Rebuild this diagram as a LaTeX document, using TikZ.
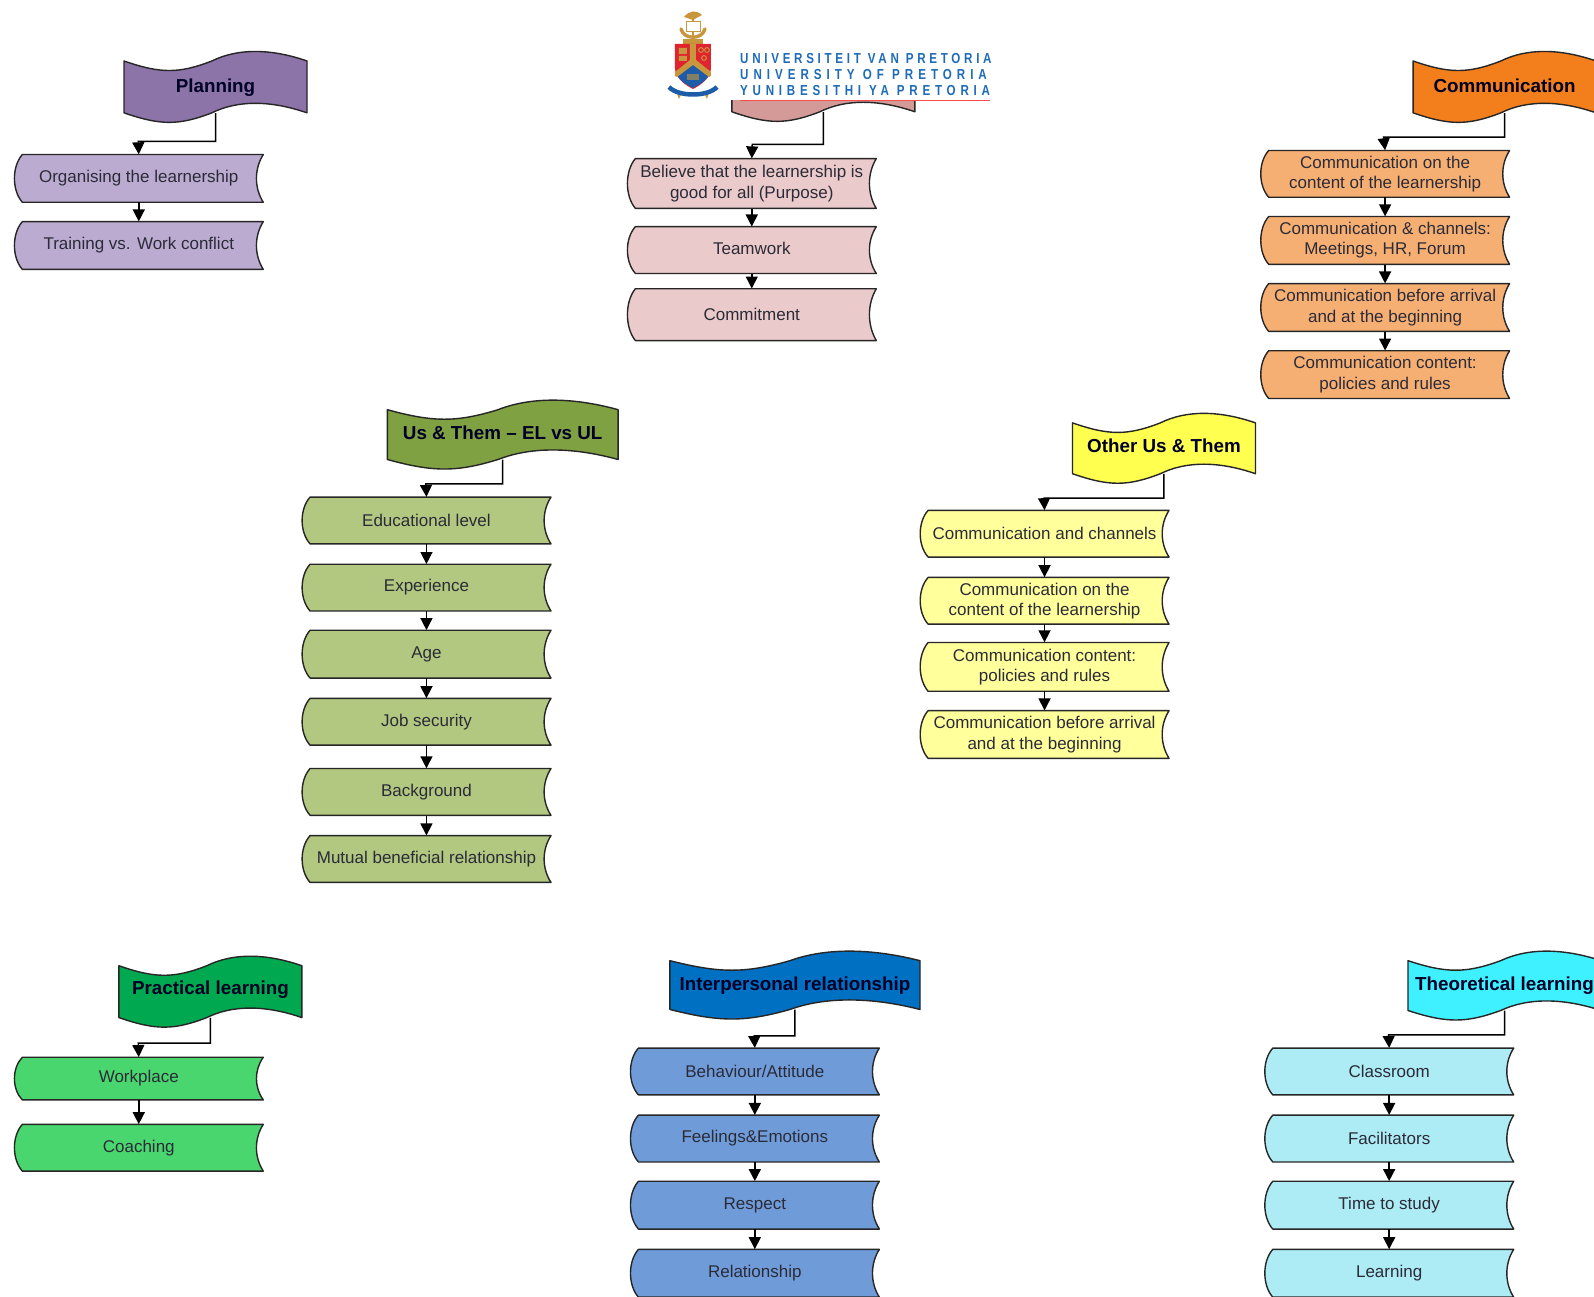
\documentclass[tikz,border=0pt]{standalone}
\usepackage{fontspec}
\usepackage{graphicx}
\setmainfont{Liberation Sans}
\definecolor{ink}{HTML}{2B2B38}
\definecolor{upblue}{HTML}{1E6BB8}
\definecolor{upgold}{HTML}{C8963C}
\definecolor{upred}{HTML}{E0242F}
\definecolor{upnavy}{HTML}{1C5CA8}
\tikzset{
  outline/.style={draw=black!85,line width=1.4pt,line join=round},
  boxlabel/.style={inner sep=0pt,align=center,text=ink,font=\fontsize{17}{20.3}\selectfont},
  headlabel/.style={inner sep=0pt,align=center,text=black!85!blue,font=\fontsize{18.8}{22}\selectfont\bfseries},
  conn/.style={draw=black,line width=1.5pt,-{Triangle[length=12pt,width=12pt]}},
  logoname/.style={anchor=base west,inner sep=0pt,text=upblue},
  planH/.style={fill=myPlanH}, planB/.style={fill=myPlanB},
  pinkH/.style={fill=myPinkH}, pinkB/.style={fill=myPinkB},
  commH/.style={fill=myCommH}, commB/.style={fill=myCommB},
  usH/.style={fill=myUsH}, usB/.style={fill=myUsB},
  otherH/.style={fill=myOtherH}, otherB/.style={fill=myOtherB},
  pracH/.style={fill=myPracH}, pracB/.style={fill=myPracB},
  interH/.style={fill=myInterH}, interB/.style={fill=myInterB},
  theoH/.style={fill=myTheoH}, theoB/.style={fill=myTheoB},
}
\definecolor{myPlanH}{HTML}{8C73A8}\definecolor{myPlanB}{HTML}{BBABD1}
\definecolor{myPinkH}{HTML}{D49A98}\definecolor{myPinkB}{HTML}{EACACA}
\definecolor{myCommH}{HTML}{F27F1B}\definecolor{myCommB}{HTML}{F6AF73}
\definecolor{myUsH}{HTML}{7FA141}\definecolor{myUsB}{HTML}{B2C77F}
\definecolor{myOtherH}{HTML}{FFFF4F}\definecolor{myOtherB}{HTML}{FFFF9C}
\definecolor{myPracH}{HTML}{00A84F}\definecolor{myPracB}{HTML}{4AD66E}
\definecolor{myInterH}{HTML}{0070C2}\definecolor{myInterB}{HTML}{6F9CD9}
\definecolor{myTheoH}{HTML}{3FF0FF}\definecolor{myTheoB}{HTML}{ADECF5}
% name, style, left x, top y, bottom y, text
\newcommand{\storedbox}[6]{%
  \pgfmathsetmacro\xa{#3}\pgfmathsetmacro\xb{#3+245}%
  \pgfmathsetmacro\xc{#3+8}\pgfmathsetmacro\ym{(#4+#5)/2}%
  \pgfmathsetmacro\hh{(#5-#4)*1.0166}\pgfmathsetmacro\ww{245*1.0166}%
  \pgfmathsetmacro\xd{\xb-9}\pgfmathsetmacro\cx{#3+122.5}%
  \path[outline,#2] (\xc,#4) -- (\xb,#4)
    .. controls (\xd,{#4+(#5-#4)*.3}) and (\xd,{#4+(#5-#4)*.7}) .. (\xb,#5)
    -- (\xc,#5)
    .. controls (\xa-2.4,{#4+(#5-#4)*.75}) and (\xa-2.4,{#4+(#5-#4)*.25}) .. (\xc,#4) -- cycle;
  \node[minimum width=\ww pt,minimum height=\hh pt,boxlabel] (#1) at (\cx,\ym) {#6};%
}
% [text raise], name, style, left x, right x, top-left y, bottom-left y, text
\newcommand{\wavehead}[8][0]{%
  \pgfmathsetmacro\w{#5-#4}\pgfmathsetmacro\cx{(#4+#5)/2}\pgfmathsetmacro\ym{(#6+#7)/2}%
  \pgfmathsetmacro\hh{(#7-#6)*1.0166}\pgfmathsetmacro\ww{\w*1.0166}%
  \path[outline,#3] (#4,#6)
    .. controls ({#4+.2*\w},#6+12.5) and ({#4+.3*\w},#6+12.5) .. ({#4+.48*\w},#6)
    .. controls ({#4+.62*\w},#6-12.5) and ({#4+.8*\w},#6-12.5) .. (#5,#6)
    -- (#5,#7)
    .. controls ({#4+.8*\w},#7-12.5) and ({#4+.62*\w},#7-12.5) .. ({#4+.48*\w},#7)
    .. controls ({#4+.3*\w},#7+12.5) and ({#4+.2*\w},#7+12.5) .. (#4,#7) -- cycle;
  \node[minimum width=\ww pt,minimum height=\hh pt,headlabel] (#2) at (\cx,\ym) {\raisebox{#1pt}[\height][\depth]{#8}};%
}
\usetikzlibrary{arrows.meta}
\begin{document}
\begin{tikzpicture}[x=1.0166pt,y=-1.0166pt]
\useasboundingbox (0,0) rectangle (1568,1275);
\clip (0,0) rectangle (1568,1275);
\fill[white] (0,0) rectangle (1568,1275);

% Planning
\wavehead[-1]{hPlan}{planH}{122}{302}{60}{111}{Planning}
\storedbox{p1}{planB}{14}{152}{199}{Organising the learnership}
\storedbox{p2}{planB}{14}{218}{265}{Training vs. Work conflict}
\coordinate (ePlan) at (136,139);
\draw[conn] (hPlan.south) |- (ePlan) -- (p1.north);
\draw[conn] (p1.south) -- (p2.north);

% Purpose (header mostly hidden by the logo)
\wavehead{hPink}{pinkH}{720}{900}{60}{110}{}
\storedbox{b1}{pinkB}{617}{156}{205}{Believe that the learnership is\\good for all (Purpose)}
\storedbox{b2}{pinkB}{617}{223}{269}{\raisebox{2pt}[\height][\depth]{Teamwork}}
\storedbox{b3}{pinkB}{617}{284}{335}{Commitment}
\coordinate (ePink) at (740,142);
\draw[conn] (hPink.south) |- (ePink) -- (b1.north);
\draw[conn] (b1.south) -- (b2.north);
\draw[conn] (b2.south) -- (b3.north);

% Communication
\wavehead[1]{hComm}{commH}{1390}{1570}{60}{111}{Communication}
\storedbox{c1}{commB}{1240}{148}{194}{Communication on the\\content of the learnership}
\storedbox{c2}{commB}{1240}{213}{260}{Communication \& channels:\\Meetings, HR, Forum}
\storedbox{c3}{commB}{1240}{279}{326}{Communication before arrival\\and at the beginning}
\storedbox{c4}{commB}{1240}{345}{392}{Communication content:\\policies and rules}
\coordinate (eComm) at (1361,135);
\draw[conn] (hComm.south) |- (eComm) -- (c1.north);
\draw[conn] (c1.south) -- (c2.north);
\draw[conn] (c2.south) -- (c3.north);
\draw[conn] (c3.south) -- (c4.north);

% Us & Them
\wavehead[2]{hUs}{usH}{381}{608}{403}{452}{Us \& Them – EL vs UL}
\storedbox{u1}{usB}{297}{489}{535}{Educational level}
\storedbox{u2}{usB}{297}{555}{601}{Experience}
\storedbox{u3}{usB}{297}{620}{667}{Age}
\storedbox{u4}{usB}{297}{687}{733}{Job security}
\storedbox{u5}{usB}{297}{756}{802}{Background}
\storedbox{u6}{usB}{297}{822}{868}{Mutual beneficial relationship}
\coordinate (eUs) at (419,476);
\draw[conn] (hUs.south) |- (eUs) -- (u1.north);
\draw[conn] (u1.south) -- (u2.north);
\draw[conn] (u2.south) -- (u3.north);
\draw[conn] (u3.south) -- (u4.north);
\draw[conn] (u4.south) -- (u5.north);
\draw[conn] (u5.south) -- (u6.north);

% Other Us & Them
\wavehead[3]{hOther}{otherH}{1055}{1235}{416}{466}{Other Us \& Them}
\storedbox{o1}{otherB}{905}{502}{548}{Communication and channels}
\storedbox{o2}{otherB}{905}{568}{614}{Communication on the\\content of the learnership}
\storedbox{o3}{otherB}{905}{632}{680}{Communication content:\\policies and rules}
\storedbox{o4}{otherB}{905}{699}{746}{Communication before arrival\\and at the beginning}
\coordinate (eOther) at (1027,490);
\draw[conn] (hOther.south) |- (eOther) -- (o1.north);
\draw[conn] (o1.south) -- (o2.north);
\draw[conn] (o2.south) -- (o3.north);
\draw[conn] (o3.south) -- (o4.north);

% Practical learning
\wavehead[2]{hPrac}{pracH}{117}{297}{950}{1001}{Practical learning}
\storedbox{r1}{pracB}{14}{1040}{1082}{Workplace}
\storedbox{r2}{pracB}{14}{1106}{1152}{Coaching}
\coordinate (ePrac) at (136,1026);
\draw[conn] (hPrac.south) |- (ePrac) -- (r1.north);
\draw[conn] (r1.south) -- (r2.north);

% Interpersonal relationship
\wavehead[-1]{hInter}{interH}{659}{905}{945}{993}{Interpersonal relationship}
\storedbox{i1}{interB}{620}{1031}{1077}{Behaviour/Attitude}
\storedbox{i2}{interB}{620}{1097}{1143}{Feelings\&Emotions}
\storedbox{i3}{interB}{620}{1162}{1209}{Respect}
\storedbox{i4}{interB}{620}{1229}{1276}{Relationship}
\coordinate (eInter) at (742,1019);
\draw[conn] (hInter.south) |- (eInter) -- (i1.north);
\draw[conn] (i1.south) -- (i2.north);
\draw[conn] (i2.south) -- (i3.north);
\draw[conn] (i3.south) -- (i4.north);

% Theoretical learning
\wavehead{hTheo}{theoH}{1385}{1575}{945}{994}{Theoretical learning}
\storedbox{t1}{theoB}{1244}{1031}{1077}{Classroom}
\storedbox{t2}{theoB}{1244}{1097}{1143}{Facilitators}
\storedbox{t3}{theoB}{1244}{1162}{1209}{Time to study}
\storedbox{t4}{theoB}{1244}{1229}{1276}{Learning}
\coordinate (eTheo) at (1366,1018);
\draw[conn] (hTheo.south) |- (eTheo) -- (t1.north);
\draw[conn] (t1.south) -- (t2.north);
\draw[conn] (t2.south) -- (t3.north);
\draw[conn] (t3.south) -- (t4.north);

% Logo (drawn in full-size pixel units)
\begin{scope}[x=1pt,y=-1pt]
\fill[white] (655,0) rectangle (1000,100);
% crest top
\draw[upgold,line width=3.4pt,line cap=round] (681,29) .. controls (684,40) and (702,40) .. (705,29);
\draw[upgold,line width=2.5pt] (693,16) -- (693,42);
\fill[upgold] (684,17) .. controls (690,10) and (696,10) .. (702,15) -- (693,20) -- cycle;
\fill[white,draw=upgold,line width=.8pt] (686,21) rectangle (700,31);
\fill[upgold] (683,39) rectangle (703,44);
% shield
\fill[upred] (675,44) -- (711,44) -- (711,68) .. controls (711,78) and (701,85) .. (693,89) .. controls (685,85) and (675,78) .. (675,68) -- cycle;
\fill[upnavy] (677,75) -- (693,63) -- (709,75) .. controls (706,81) and (699,85) .. (693,88) .. controls (687,85) and (680,81) .. (677,75) -- cycle;
\fill[upgold] (675,72) -- (690,60) -- (690,44) -- (696,44) -- (696,60) -- (711,72) -- (711,76) -- (709,77) -- (693,65) -- (677,77) -- (675,76) -- cycle;
\fill[upgold] (679,48) rectangle (687,54) (679,56) rectangle (687,61);
\draw[upgold,line width=1pt] (701,50) circle (2.4) (707,50) circle (2.4) (704,58) circle (2.4);
\fill[upgold!60!upnavy] (687,74) rectangle (699,80);
% ribbon
\fill[upgold] (676,90) -- (682,93) -- (679,99) -- cycle (710,90) -- (704,93) -- (707,99) -- cycle;
\draw[upnavy,line width=4.5pt] (669,87) .. controls (678,97) and (708,97) .. (717,87);
% name
\node[logoname] (logoA) at (740,63.5) {\scalebox{.8}[1]{\fontsize{14.5}{16}\bfseries\addfontfeature{LetterSpace=32}UNIVERSITEIT VAN PRETORIA}};
\node[logoname] (logoB) at (740,80) {\scalebox{.8}[1]{\fontsize{14.5}{16}\bfseries\addfontfeature{LetterSpace=43}UNIVERSITY OF PRETORIA}};
\node[logoname] (logoC) at (740,96) {\scalebox{.8}[1]{\fontsize{14.5}{16}\bfseries\addfontfeature{LetterSpace=41}YUNIBESITHI YA PRETORIA}};
\draw[red!60!pink,line width=.8pt] (740,100) -- (990,100);
\end{scope}
\end{tikzpicture}
\end{document}
